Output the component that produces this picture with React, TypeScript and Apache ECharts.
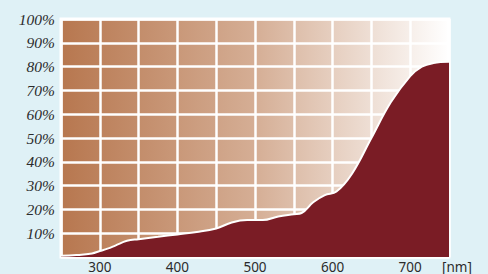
import React, { useEffect, useRef } from "react";
import * as echarts from "echarts";

const wavelengths = [250, 270, 290, 300, 310, 320, 335, 350, 375, 400, 425, 450, 470, 490, 510, 530, 550, 560, 575, 590, 605, 625, 650, 675, 700, 715, 730, 750];
const transmission = [0.5, 0.8, 1.5, 2.5, 3.5, 4.8, 6.8, 7.5, 8.5, 9.5, 10.5, 12, 14.5, 15.5, 15.5, 17, 18, 18.5, 23, 26, 27.5, 35, 50, 65, 76, 80, 81.5, 82];
const xUnit = "[nm]";

export default function App() {
  const ref = useRef<HTMLDivElement>(null);
  useEffect(() => {
    if (!ref.current) return;
    const chart = echarts.init(ref.current, null, { renderer: "svg" });
    chart.setOption({
      animation: false,
      backgroundColor: "#dff1f6",
      grid: {
        left: 61,
        right: 39,
        top: 19,
        bottom: 17,
        show: true,
        borderColor: "#ffffff",
        borderWidth: 3,
        backgroundColor: new echarts.graphic.LinearGradient(0, 0, 1, 0, [
          { offset: 0, color: "#b7774f" },
          { offset: 0.5, color: "#d5ae95" },
          { offset: 1, color: "#ffffff" },
        ]),
      },
      xAxis: {
        type: "value",
        min: 250,
        max: 750,
        interval: 50,
        axisLine: { show: false },
        axisTick: { show: false },
        splitLine: { show: true, lineStyle: { color: "#ffffff", width: 2.5 } },
        axisLabel: {
          margin: 3,
          color: "#2b2b2b",
          fontFamily: "Noto Sans",
          fontSize: 13.5,
          lineHeight: 13,
          formatter: (v: number) => (v % 100 === 0 && v > 250 && v < 750 ? String(v) : ""),
        },
      },
      yAxis: {
        type: "value",
        min: 0,
        max: 100,
        interval: 10,
        axisLine: { show: false },
        axisTick: { show: false },
        splitLine: { show: true, lineStyle: { color: "#ffffff", width: 2.5 } },
        axisLabel: {
          margin: 6,
          color: "#2b2b2b",
          fontFamily: "Liberation Serif",
          fontStyle: "italic",
          fontSize: 15.5,
          formatter: (v: number) => (v === 0 ? "" : v + "%"),
        },
      },
      graphic: [
        {
          type: "text",
          x: 442,
          y: 260,
          style: {
            text: xUnit,
            fill: "#2b2b2b",
            fontFamily: "Noto Sans",
            fontSize: 13.5,
            lineHeight: 13,
            verticalAlign: "top",
          },
        },
      ],
      series: [
        {
          type: "line",
          data: wavelengths.map((w, i) => [w, transmission[i]]),
          smooth: 0.4,
          symbol: "none",
          lineStyle: { color: "#ffffff", width: 2 },
          areaStyle: { color: "#7a1c25", opacity: 1 },
        },
      ],
    });
    return () => chart.dispose();
  }, []);
  return <div ref={ref} style={{ position: "fixed", left: 0, top: 0, width: 488, height: 274 }} />;
}
